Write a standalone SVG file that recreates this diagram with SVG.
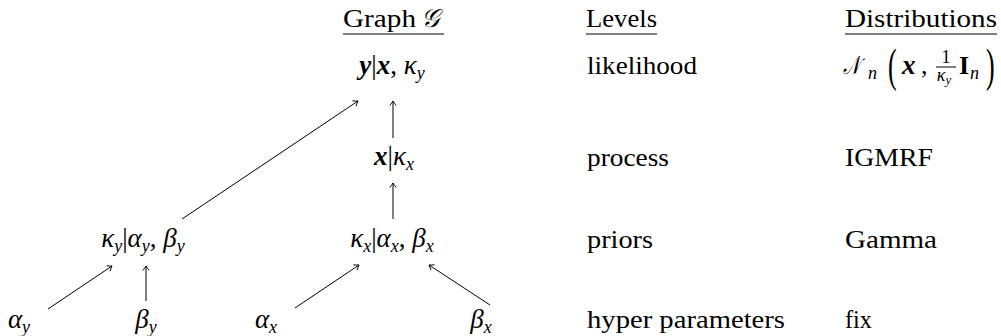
<svg xmlns="http://www.w3.org/2000/svg" width="1001" height="336" viewBox="0 0 1001 336">
<style>
text{font-family:"Liberation Serif","DejaVu Serif",serif;font-size:26px;fill:#000}
.mt{font-size:27px}
.m{font-style:italic}
.b{font-weight:bold;font-style:italic}
.up{font-style:normal}
.sub{font-size:18px}
.ul{stroke:#000;stroke-width:1}
.edge{stroke:#000;stroke-width:1;fill:none;marker-end:url(#ah)}
</style>
<defs>
<marker id="ah" markerUnits="userSpaceOnUse" markerWidth="10" markerHeight="10" viewBox="-6 -5 8 10" refX="0" refY="0" orient="auto" overflow="visible">
<path d="M-4.5,-3.2 Q-1.6,-0.9 0,0 Q-1.6,0.9 -4.5,3.2" fill="none" stroke="#000" stroke-width="0.9"/>
</marker>
</defs>
<g id="headers">
<text x="343" y="27" textLength="73" lengthAdjust="spacingAndGlyphs">Graph</text>
<text x="421" y="27" class="m">𝒢</text>
<line class="ul" x1="343" y1="34" x2="444" y2="34"/>
<text x="586" y="27" textLength="71" lengthAdjust="spacingAndGlyphs">Levels</text>
<line class="ul" x1="586" y1="34" x2="657" y2="34"/>
<text x="845" y="27" textLength="152" lengthAdjust="spacingAndGlyphs">Distributions</text>
<line class="ul" x1="845" y1="34" x2="997" y2="34"/>
</g>
<g id="connectors">
<line class="edge" x1="182" y1="219" x2="358" y2="101"/>
<line class="edge" x1="393" y1="138" x2="393" y2="101"/>
<line class="edge" x1="393" y1="219" x2="393" y2="183"/>
<line class="edge" x1="48" y1="309" x2="112" y2="266"/>
<line class="edge" x1="146" y1="301" x2="146" y2="266"/>
<line class="edge" x1="295" y1="308" x2="359" y2="265"/>
<line class="edge" x1="490" y1="305" x2="429" y2="265"/>
</g>
<g id="node-y">
<text class="mt" x="392" y="74" text-anchor="middle"><tspan class="b">y</tspan><tspan class="up">|</tspan><tspan class="b">x</tspan><tspan class="up">, </tspan><tspan class="m">κ</tspan><tspan class="sub m" dy="5">y</tspan></text>
</g>
<g id="node-x">
<text class="mt" x="394" y="165" text-anchor="middle"><tspan class="b">x</tspan><tspan class="up">|</tspan><tspan class="m">κ</tspan><tspan class="sub m" dy="5">x</tspan></text>
</g>
<g id="node-kappa-y">
<text class="mt" x="143" y="247" text-anchor="middle"><tspan class="m">κ</tspan><tspan class="sub m" dy="5">y</tspan><tspan class="up" dy="-5">|</tspan><tspan class="m">α</tspan><tspan class="sub m" dy="5">y</tspan><tspan class="up" dy="-5">, </tspan><tspan class="m">β</tspan><tspan class="sub m" dy="5">y</tspan></text>
</g>
<g id="node-kappa-x">
<text class="mt" x="392" y="247" text-anchor="middle"><tspan class="m">κ</tspan><tspan class="sub m" dy="5">x</tspan><tspan class="up" dy="-5">|</tspan><tspan class="m">α</tspan><tspan class="sub m" dy="5">x</tspan><tspan class="up" dy="-5">, </tspan><tspan class="m">β</tspan><tspan class="sub m" dy="5">x</tspan></text>
</g>
<g id="node-alpha-y">
<text class="mt" x="19" y="328" text-anchor="middle"><tspan class="m">α</tspan><tspan class="sub m" dy="5">y</tspan></text>
</g>
<g id="node-beta-y">
<text class="mt" x="146" y="328" text-anchor="middle"><tspan class="m">β</tspan><tspan class="sub m" dy="5">y</tspan></text>
</g>
<g id="node-alpha-x">
<text class="mt" x="266" y="328" text-anchor="middle"><tspan class="m">α</tspan><tspan class="sub m" dy="5">x</tspan></text>
</g>
<g id="node-beta-x">
<text class="mt" x="481" y="328" text-anchor="middle"><tspan class="m">β</tspan><tspan class="sub m" dy="5">x</tspan></text>
</g>
<g id="levels">
<text x="587" y="74" textLength="110" lengthAdjust="spacingAndGlyphs">likelihood</text>
<text x="587" y="166" textLength="82" lengthAdjust="spacingAndGlyphs">process</text>
<text x="587" y="248" textLength="66" lengthAdjust="spacingAndGlyphs">priors</text>
<text x="587" y="328" textLength="198" lengthAdjust="spacingAndGlyphs">hyper parameters</text>
</g>
<g id="distributions">
<text x="843" y="74" class="m" textLength="17" lengthAdjust="spacingAndGlyphs">𝒩</text>
<text x="868" y="79" class="sub m">n</text>
<text transform="translate(888,81) scale(1,1.8)" class="up">(</text>
<text x="902" y="74" class="b mt">x</text>
<text x="921" y="74">,</text>
<text x="946" y="63" text-anchor="middle" class="sub">1</text>
<line class="ul" x1="936" y1="67" x2="956" y2="67"/>
<text x="944" y="81" text-anchor="middle" class="sub m">κ<tspan font-size="13" dy="3">y</tspan></text>
<text x="959" y="74" style="font-weight:bold">I</text>
<text x="970" y="79" class="sub m">n</text>
<text transform="translate(986,81) scale(1,1.8)" class="up">)</text>
<text x="845" y="166" textLength="88" lengthAdjust="spacingAndGlyphs">IGMRF</text>
<text x="845" y="248" textLength="92" lengthAdjust="spacingAndGlyphs">Gamma</text>
<text x="845" y="328" textLength="27" lengthAdjust="spacingAndGlyphs">fix</text>
</g>
</svg>
